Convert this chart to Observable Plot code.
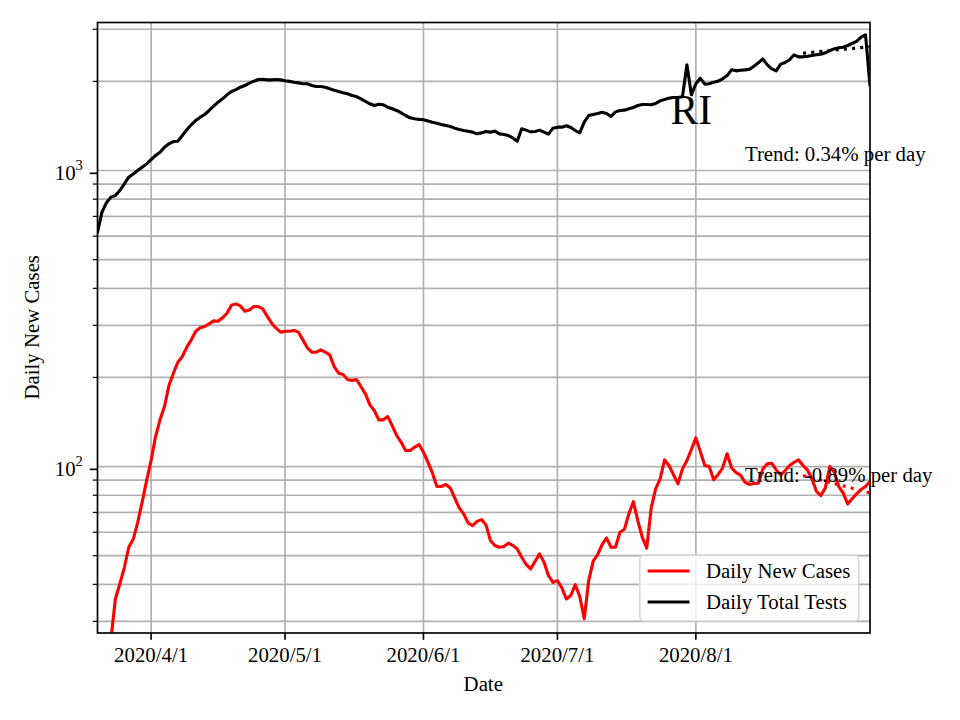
<!DOCTYPE html>
<html>
<head>
<meta charset="utf-8">
<script src="https://cdn.jsdelivr.net/npm/d3@7"></script>
<script src="https://cdn.jsdelivr.net/npm/@observablehq/plot@0.6"></script>
<style>
html, body { margin: 0; padding: 0; background: #fff; }
#chart { width: 960px; height: 720px; }
</style>
</head>
<body>
<div id="chart"></div>
<script>
// ---------------- data ----------------
const startDate = "2020-03-20"; // one value per day from this date
const dailyTotalTests = [
  619, 723, 778, 813, 823, 856, 902, 949, 974, 1000, 1026, 1053,
  1089, 1124, 1153, 1199, 1231, 1253, 1256, 1313, 1373, 1427, 1476, 1514,
  1546, 1595, 1649, 1701, 1746, 1802, 1849, 1877, 1911, 1937, 1972, 2003,
  2029, 2034, 2024, 2024, 2029, 2024, 2010, 2000, 1987, 1977, 1963, 1963,
  1937, 1922, 1922, 1911, 1888, 1867, 1849, 1830, 1816, 1792, 1778, 1746,
  1711, 1680, 1658, 1675, 1667, 1636, 1616, 1595, 1566, 1534, 1507, 1495,
  1488, 1484, 1471, 1456, 1444, 1430, 1419, 1408, 1390, 1375, 1365, 1358,
  1348, 1330, 1340, 1355, 1348, 1358, 1330, 1323, 1313, 1289, 1256, 1383,
  1369, 1351, 1355, 1369, 1348, 1327, 1390, 1401, 1401, 1416, 1397, 1365,
  1340, 1456, 1534, 1546, 1558, 1574, 1558, 1522, 1578, 1595, 1599, 1616,
  1633, 1658, 1671, 1671, 1667, 1684, 1719, 1738, 1756, 1765, 1765, 1774,
  2275, 1802, 1963, 2050, 1957, 1963, 1988, 2004, 2040, 2094, 2188, 2171,
  2180, 2188, 2199, 2251, 2311, 2384, 2275, 2206, 2171, 2287, 2317, 2366,
  2459, 2421, 2421, 2432, 2446, 2459, 2472, 2498, 2543, 2576, 2597, 2610,
  2644, 2686, 2729, 2821, 2873, 1937
];
const dailyNewCases = [
  null, null, null, 26, 35.7, 40.2, 45.5, 53.4, 56.8, 64.8, 75.8, 89.7,
  104.8, 126.3, 143.8, 159.5, 187.8, 206.7, 225.1, 235.3, 253.1, 267.9, 286.6, 294.2,
  297.2, 303.4, 310.5, 309.7, 317.9, 329.6, 350.7, 354.4, 348.9, 334.7, 338.2, 347.1,
  347.1, 341, 322.1, 305, 293.4, 284.4, 286.6, 286.6, 288.1, 284.4, 267.9, 251.8,
  243.4, 243.4, 247.9, 243.4, 238.4, 217.7, 206.7, 204.6, 196.8, 195.2, 196.8, 186.3,
  176, 161.6, 154.6, 143.8, 143.8, 147.5, 137.5, 127.3, 120.8, 113.3, 113.3, 116.2,
  118.7, 111.8, 103.4, 95.2, 85.6, 85.6, 87, 84.7, 78.4, 72.5, 69.2, 64.5,
  63.2, 65.3, 66.2, 63.5, 56.2, 54.1, 53.4, 53.7, 55.1, 54.2, 52.7, 49.4,
  46.7, 45.1, 47.9, 50.7, 47.5, 42.8, 40.6, 41.2, 38.9, 35.7, 36.7, 39.9,
  36.4, 30.6, 41.2, 47.9, 50.4, 54.5, 57.4, 53.4, 53.4, 60, 61.4, 69.2,
  76.1, 65.7, 57.7, 53, 72.5, 84, 90.8, 105.3, 100.8, 93.7, 87.4, 98.2,
  104.8, 114.1, 125, 112.4, 100.8, 100, 90.2, 94, 99, 110.4, 99, 95.4,
  93.5, 88.5, 87, 87.6, 87.8, 98.2, 102.1, 102.6, 97.4, 93.7, 96.9, 100.8,
  103.4, 105.3, 100.8, 97.4, 90.8, 82.5, 79.8, 84.7, 100, 95.7, 85.6, 81.3,
  74.8, 77.8, 80.9, 83.6, 85.6, 89
];
const trendDates = ["2020-08-25", "2020-09-09"];
const testsTrend = [2490, 2620];
const casesTrend = [93.2, 81.5];
const seriesNames = ["Daily New Cases", "Daily Total Tests"];
const trendLabels = ["Trend: 0.34% per day", "Trend: -0.89% per day"];
const stateLabel = "RI";
const xTickDates = ["2020-04-01", "2020-05-01", "2020-06-01", "2020-07-01", "2020-08-01"];
const yMajorTicks = [100, 1000];
const yMinorTicks = [30, 40, 50, 60, 70, 80, 90, 200, 300, 400, 500, 600, 700, 800, 900, 2000, 3000];
const xLabel = "Date";
const yLabel = "Daily New Cases";

// ---------------- build ----------------
const FONT = "'Liberation Serif', 'Times New Roman', Times, serif";
const FS = 20.8;
const GRID = "#b0b0b0";
const LW = 3.1;
const SPINE = 1.67;

const t0 = new Date(startDate + "T00:00:00Z");
const day = i => d3.utcDay.offset(t0, i);
const tests = dailyTotalTests.map((v, i) => ({date: day(i), value: v}));
const cases = dailyNewCases.map((v, i) => ({date: day(i), value: v}));
const toDate = s => new Date(s + "T00:00:00Z");
const testsTrendData = trendDates.map((d, i) => ({date: toDate(d), value: testsTrend[i]}));
const casesTrendData = trendDates.map((d, i) => ({date: toDate(d), value: casesTrend[i]}));
const xTicks = xTickDates.map(toDate);

const annotations = [
  {date: toDate("2020-08-12"), value: 1075, text: trendLabels[0]},
  {date: toDate("2020-08-12"), value: 88.5, text: trendLabels[1]},
];
const stateAnno = [{date: toDate("2020-07-31"), value: 1438, text: stateLabel}];

const fmtDate = d => `${d.getUTCFullYear()}/${d.getUTCMonth() + 1}/${d.getUTCDate()}`;

const chart = Plot.plot({
  width: 960,
  height: 720,
  marginLeft: 97,
  marginRight: 90.5,
  marginTop: 22,
  marginBottom: 87.5,
  style: {fontFamily: FONT, fontSize: FS + "px", background: "white", color: "black", overflow: "visible"},
  x: {type: "utc", domain: [tests[0].date, tests[tests.length - 1].date], label: null},
  y: {type: "log", domain: [27.4, 3162], label: null},
  marks: [
    Plot.ruleY(yMinorTicks, {stroke: GRID, strokeWidth: SPINE}),
    Plot.ruleY(yMajorTicks, {stroke: GRID, strokeWidth: SPINE}),
    Plot.ruleX(xTicks, {stroke: GRID, strokeWidth: SPINE}),
    Plot.line(cases, {x: "date", y: "value", stroke: "red", strokeWidth: LW, clip: true}),
    Plot.line(tests, {x: "date", y: "value", stroke: "black", strokeWidth: LW, clip: true}),
    Plot.line(testsTrendData, {x: "date", y: "value", stroke: "black", strokeWidth: LW, strokeDasharray: "3.1,5.1", strokeLinecap: "butt", clip: true}),
    Plot.line(casesTrendData, {x: "date", y: "value", stroke: "red", strokeWidth: LW, strokeDasharray: "3.1,5.1", strokeLinecap: "butt", clip: true}),
    Plot.text(annotations, {x: "date", y: "value", text: "text", textAnchor: "start", lineAnchor: "bottom", fontSize: FS, fill: "black", dx: 0}),
    Plot.text(stateAnno, {x: "date", y: "value", text: "text", textAnchor: "middle", lineAnchor: "bottom", fontSize: 41.7, fill: "black"}),
    Plot.axisX({ticks: xTicks, tickFormat: fmtDate, tickSize: 7.3, tickPadding: 7.3, strokeWidth: SPINE, fontSize: FS, label: null}),
    Plot.axisY({ticks: yMajorTicks, tickFormat: d => String(Math.round(Math.log10(d))), tickSize: 7.3, tickPadding: 7.3, strokeWidth: SPINE, fontSize: FS, label: null, dy: 2.8}),
    Plot.axisY({ticks: yMinorTicks, tickFormat: () => "", tickSize: 4.2, strokeWidth: 1.2, label: null}),
    Plot.frame({stroke: "black", strokeWidth: SPINE})
  ]
});

document.getElementById("chart").appendChild(chart);
const svg = d3.select(chart);

// superscript exponent labels: "10" + exponent from Plot's tick format
svg.selectAll("text").each(function () {
  const el = d3.select(this);
  const g = this.parentNode;
  const aria = g && g.getAttribute ? (g.getAttribute("aria-label") || "") : "";
  if (aria.startsWith("y-axis") && aria.includes("label")) {
    const exp = el.text();
    if (!exp) return;
    el.text("10");
    el.append("tspan").attr("dy", -10.2).attr("font-size", 14.6).text(exp);
  }
});

// axis titles
svg.append("text")
  .attr("transform", "translate(38.8,327.25) rotate(-90)")
  .attr("text-anchor", "middle")
  .attr("font-family", FONT).attr("font-size", FS).attr("fill", "black")
  .text(yLabel);
svg.append("text")
  .attr("x", 483.25).attr("y", 691)
  .attr("text-anchor", "middle")
  .attr("font-family", FONT).attr("font-size", FS).attr("fill", "black")
  .text(xLabel);

// legend (lower right, inside axes)
const colors = ["red", "black"];
const lg = svg.append("g");
lg.append("rect")
  .attr("x", 639.8).attr("y", 555).attr("width", 219).attr("height", 66)
  .attr("rx", 4.2)
  .attr("fill", "white").attr("fill-opacity", 0.8)
  .attr("stroke", "#d6d6d6").attr("stroke-width", 1.5);
seriesNames.forEach((name, i) => {
  const cy = 571 + i * 31;
  lg.append("line")
    .attr("x1", 647.6).attr("x2", 689.5).attr("y1", cy).attr("y2", cy)
    .attr("stroke", colors[i]).attr("stroke-width", LW);
  lg.append("text")
    .attr("x", 706).attr("y", cy + 6.9)
    .attr("text-anchor", "start")
    .attr("font-family", FONT).attr("font-size", FS).attr("fill", "black")
    .text(name);
});
</script>
</body>
</html>
